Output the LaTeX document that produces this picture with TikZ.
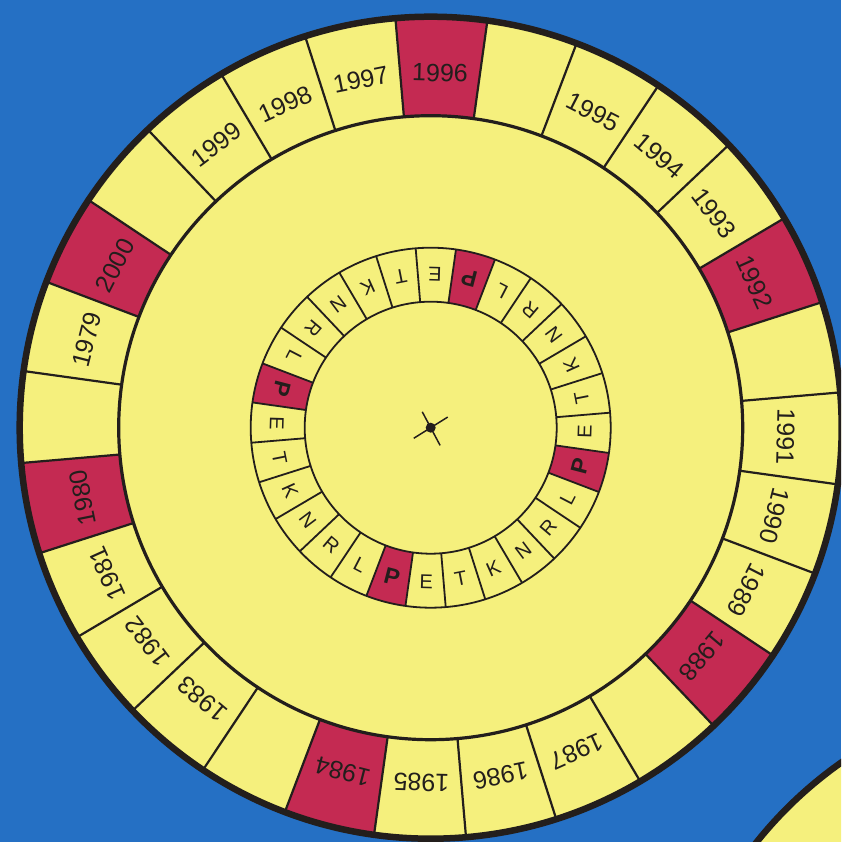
\documentclass[tikz,border=0pt]{standalone}
\usepackage{fontspec}
\setmainfont{Liberation Sans}
\usepackage{tikz}
\usetikzlibrary{calc}

\definecolor{wheelblue}{RGB}{37,112,196}
\definecolor{wheelyellow}{RGB}{245,240,125}
\definecolor{leapred}{RGB}{196,42,82}
\definecolor{inkline}{RGB}{35,30,28}

\begin{document}
\begin{tikzpicture}[
    x=1pt, y=1pt,
    year/.style={inner sep=0pt, text=inkline, font=\fontsize{25}{30}\selectfont},
    letter/.style={inner sep=0pt, text=inkline, font=\fontsize{20}{24}\selectfont},
    leapletter/.style={inner sep=0pt, text=inkline, font=\fontsize{23}{27}\selectfont\bfseries},
    rim/.style={draw=inkline, line width=6.5pt},
    ringline/.style={draw=inkline, line width=3.2pt},
    thinline/.style={draw=inkline, line width=1.8pt},
    divider/.style={draw=inkline, line width=2.2pt}
]
\def\cellang{12.857}

\useasboundingbox (-430.7,-414.3) rectangle (410.3,427.7);
\clip (-430.7,-414.3) rectangle (410.3,427.7);
\fill[wheelblue] (-430.7,-414.3) rectangle (410.3,427.7);

% neighbour wheel, bottom right corner
\coordinate (other) at (646.3,-670.3);
\fill[wheelyellow] (other) circle[radius=410];
\draw[rim] (other) circle[radius=410];

% main wheel
\coordinate (hub) at (0,0);
\fill[wheelyellow] (hub) circle[radius=411];

% leap years in the outer ring
\foreach \k in {0,5,10,15,20,23} {
    \pgfmathsetmacro\a{88.5-\k*\cellang+\cellang/2}
    \pgfmathsetmacro\b{88.5-\k*\cellang-\cellang/2}
    \fill[leapred] (\a:312) arc[start angle=\a, end angle=\b, radius=312]
        -- (\b:411) arc[start angle=\b, end angle=\a, radius=411] -- cycle;
}

% P cells in the letter ring
\foreach \k in {0,7,14,21} {
    \pgfmathsetmacro\a{75.5-\k*\cellang+\cellang/2}
    \pgfmathsetmacro\b{75.5-\k*\cellang-\cellang/2}
    \fill[leapred] (\a:126) arc[start angle=\a, end angle=\b, radius=126]
        -- (\b:180) arc[start angle=\b, end angle=\a, radius=180] -- cycle;
}

% cell dividers
\foreach \k in {0,...,27} {
    \pgfmathsetmacro\a{88.5-\k*\cellang+\cellang/2}
    \draw[divider] (\a:312) -- (\a:409);
    \pgfmathsetmacro\c{75.5-\k*\cellang+\cellang/2}
    \draw[thinline] (\c:126) -- (\c:180);
}

\draw[ringline] (hub) circle[radius=312];
\draw[thinline] (hub) circle[radius=180];
\draw[thinline] (hub) circle[radius=126];
\draw[rim] (hub) circle[radius=411];

% years
\foreach \k/\yr in {0/1996, 2/1995, 3/1994, 4/1993, 5/1992, 7/1991, 8/1990,
    9/1989, 10/1988, 12/1987, 13/1986, 14/1985, 15/1984, 17/1983, 18/1982,
    19/1981, 20/1980, 22/1979, 23/2000, 25/1999, 26/1998, 27/1997} {
    \pgfmathsetmacro\a{88.5-\k*\cellang}
    \node[year, rotate=\a-90] (y\yr) at (\a:355) {\yr};
}

% letters
\foreach \q in {0,...,3} {
    \foreach \ch/\sty [count=\j from 0] in {P/leapletter, L/letter, R/letter,
        N/letter, K/letter, T/letter, E/letter} {
        \pgfmathsetmacro\a{75.5-(\q*7+\j)*\cellang}
        \node[\sty, rotate=\a+90] (l\q-\j) at (\a:154) {\ch};
    }
}

% centre mark
\draw[inkline, line width=1.5pt] (212:20) -- (32:20);
\draw[inkline, line width=1.5pt] (118:18) -- (298:20);
\fill[inkline] (hub) circle[radius=5];

\end{tikzpicture}
\end{document}
